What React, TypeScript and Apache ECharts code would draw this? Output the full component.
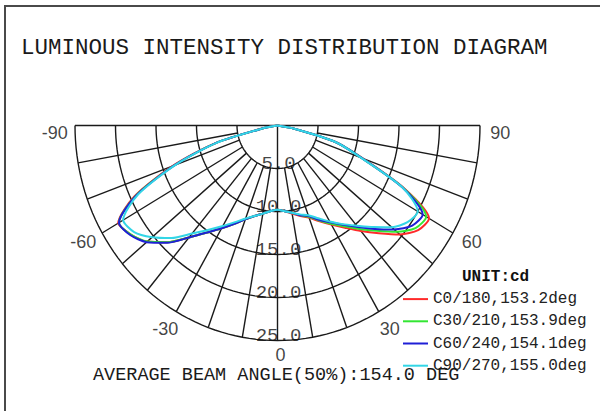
import React, { useEffect, useRef } from "react";
import * as echarts from "echarts";

// Angles (deg, 0 = straight down) and intensities (cd)
const ANGLES = [-90, -85, -80, -75, -70, -65, -60, -55, -50, -45, -40, -35, -30, -25, -20, -15, -10, -5, 0, 5, 10, 15, 20, 25, 30, 35, 40, 45, 50, 55, 60, 65, 70, 75, 80, 85, 90];
const C0 = [0, 0, 1.8, 8.0, 13.8, 19.5, 22.7, 22.1, 21.0, 19.2, 17.0, 15.2, 13.8, 12.6, 11.6, 10.9, 10.4, 10.0, 9.8, 10.0, 10.4, 10.9, 11.4, 12.3, 13.3, 14.5, 16.0, 17.7, 19.7, 21.2, 21.6, 17.2, 11.2, 7.4, 2.0, 0, 0];
const C30 = [0, 0, 1.7, 7.9, 13.6, 19.3, 22.6, 22.1, 21.0, 19.2, 17.0, 15.2, 13.8, 12.6, 11.6, 10.9, 10.4, 10.0, 9.8, 10.0, 10.3, 10.8, 11.3, 12.2, 13.2, 14.3, 15.7, 17.3, 19.2, 20.8, 21.2, 17.1, 11.1, 7.4, 2.0, 0, 0];
const C60 = [0, 0, 1.7, 7.9, 13.5, 19.2, 22.6, 22.2, 21.1, 19.3, 17.0, 15.2, 13.8, 12.6, 11.6, 10.9, 10.4, 10.0, 9.8, 10.0, 10.3, 10.8, 11.2, 12.1, 13.0, 14.1, 15.4, 17.0, 18.8, 20.3, 20.7, 17.0, 11.1, 7.4, 2.0, 0, 0];
const C90 = [0, 0, 1.7, 7.8, 13.4, 19.0, 22.0, 21.6, 20.2, 18.5, 16.4, 14.8, 13.5, 12.4, 11.5, 10.9, 10.4, 10.0, 9.8, 10.0, 10.3, 10.7, 11.1, 11.9, 12.9, 14.0, 15.2, 16.7, 18.4, 19.6, 20.0, 17.0, 11.0, 7.4, 2.0, 0, 0];

const SERIES_NAMES = ["C0/180,153.2deg", "C30/210,153.9deg", "C60/240,154.1deg", "C90/270,155.0deg"];
const SERIES_VALUES = [C0, C30, C60, C90];
const SERIES_COLORS = ["#ff2a2a", "#33e633", "#1f1fd6", "#33d6e6"];

const RINGS = [5, 10, 15, 20, 25];
const SPOKES = [-80, -70, -60, -50, -40, -30, -20, -10, 10, 20, 30, 40, 50, 60, 70, 80];
const ANGLE_LABELS = [-90, -60, -30, 0, 30, 60, 90];
const R_MAX = 25;

const TITLE = "LUMINOUS INTENSITY DISTRIBUTION DIAGRAM";
const FOOTER = "AVERAGE BEAM ANGLE(50%):154.0 DEG";
const UNIT = "UNIT:cd";

const toXY = (deg: number, r: number) => {
  const a = (deg * Math.PI) / 180;
  return [r * Math.sin(a), r * Math.cos(a)];
};

export default function App() {
  const ref = useRef<HTMLDivElement>(null);
  useEffect(() => {
    if (!ref.current) return;
    const chart = echarts.init(ref.current, undefined, { renderer: "svg" });
    const gridStyle = { color: "#1a1a1a", width: 1.4 };
    const gridSeries: any[] = [];
    RINGS.forEach((r) => {
      const pts: number[][] = [];
      for (let d = -90; d <= 90; d += 2) pts.push(toXY(d, r));
      gridSeries.push({ type: "line", data: pts, symbol: "none", silent: true, lineStyle: gridStyle, clip: false, z: 1 });
    });
    SPOKES.forEach((d) => {
      gridSeries.push({ type: "line", data: [toXY(d, RINGS[0]), toXY(d, R_MAX)], symbol: "none", silent: true, lineStyle: gridStyle, clip: false, z: 1 });
    });
    gridSeries.push({ type: "line", data: [toXY(-90, R_MAX), [0, 0], toXY(90, R_MAX)], symbol: "none", silent: true, lineStyle: gridStyle, clip: false, z: 1 });
    gridSeries.push({ type: "line", data: [[0, 0], toXY(0, R_MAX)], symbol: "none", silent: true, lineStyle: gridStyle, clip: false, z: 1 });

    const curveSeries = SERIES_NAMES.map((name, i) => ({
      name,
      type: "line",
      data: ANGLES.map((d, k) => toXY(d, SERIES_VALUES[i][k])),
      symbol: "none",
      smooth: 0.25,
      color: SERIES_COLORS[i],
      lineStyle: { color: SERIES_COLORS[i], width: 2 },
      clip: false,
      z: 3 + i,
    }));

    const labelRadius = (d: number) => (d === 0 ? 26.7 : Math.abs(d) === 90 ? 27.5 : 27.7);
    const angleLabelSeries = {
      type: "scatter",
      silent: true,
      symbolSize: 0,
      clip: false,
      z: 2,
      data: ANGLE_LABELS.map((d) => {
        const [x, y] = toXY(d, labelRadius(d));
        return { value: [x, y, d], label: { offset: Math.abs(d) === 90 ? [0, 7] : d === 0 ? [3, 0] : [0, -3] } };
      }),
      label: {
        show: true,
        position: "inside",
        formatter: (p: any) => String(p.value[2]),
        fontFamily: "Liberation Sans",
        fontSize: 18,
        lineHeight: 16,
        color: "#111",
      },
    };

    const ringLabelSeries = {
      type: "scatter",
      silent: true,
      symbolSize: 0,
      clip: false,
      z: 2,
      data: RINGS.map((r) => [0, r, r]),
      label: {
        show: true,
        position: "inside",
        offset: [1, -5],
        formatter: (p: any) => Number(p.value[2]).toFixed(1),
        fontFamily: "Liberation Mono",
        fontSize: 19,
        color: "#111",
      },
    };

    chart.setOption({
      animation: false,
      backgroundColor: "#ffffff",
      title: [
        { text: TITLE, left: 21, top: 35, padding: 0, textStyle: { fontFamily: "Liberation Mono", fontSize: 22.5, fontWeight: "normal", color: "#1a1a1a", lineHeight: 26 } },
        { text: FOOTER, left: 93, top: 366, padding: 0, textStyle: { fontFamily: "Liberation Mono", fontSize: 18.5, fontWeight: "normal", color: "#1a1a1a", lineHeight: 18 } },
        { text: UNIT, left: 462, top: 267, padding: 0, textStyle: { fontFamily: "Liberation Mono", fontSize: 16, fontWeight: "bold", color: "#111", lineHeight: 20 } },
      ],
      legend: {
        data: SERIES_NAMES,
        orient: "vertical",
        left: 403,
        top: 288,
        padding: 0,
        itemGap: 0,
        itemWidth: 25,
        itemHeight: 2,
        icon: "rect",
        textStyle: { fontFamily: "Liberation Mono", fontSize: 16, color: "#222", lineHeight: 22.2 },
        selectedMode: false,
      },
      grid: { left: 75, top: 125.5, width: 405, height: 215 },
      xAxis: { type: "value", min: -R_MAX, max: R_MAX, show: false },
      yAxis: { type: "value", min: 0, max: R_MAX, inverse: true, show: false },
      graphic: [
        { type: "polyline", shape: { points: [[5, 411], [5, 6], [600, 6]] }, style: { stroke: "#4a4a4a", lineWidth: 2, fill: "none" }, silent: true },
      ],
      series: [...gridSeries, ...curveSeries, angleLabelSeries, ringLabelSeries],
    });
    return () => chart.dispose();
  }, []);
  return <div ref={ref} style={{ position: "fixed", left: 0, top: 0, width: 600, height: 411 }} />;
}
